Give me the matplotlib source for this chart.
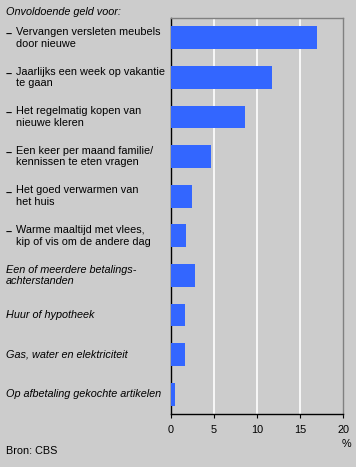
import matplotlib.pyplot as plt
import matplotlib.transforms as mtransforms

plt.rcParams['font.family'] = ['Liberation Sans', 'DejaVu Sans']

labels = [
    "Vervangen versleten meubels\ndoor nieuwe",
    "Jaarlijks een week op vakantie\nte gaan",
    "Het regelmatig kopen van\nnieuwe kleren",
    "Een keer per maand familie/\nkennissen te eten vragen",
    "Het goed verwarmen van\nhet huis",
    "Warme maaltijd met vlees,\nkip of vis om de andere dag",
    "Een of meerdere betalings-\nachterstanden",
    "Huur of hypotheek",
    "Gas, water en elektriciteit",
    "Op afbetaling gekochte artikelen",
]
dashed = [True, True, True, True, True, True, False, False, False, False]
values = [17.0, 11.8, 8.6, 4.7, 2.5, 1.8, 2.8, 1.7, 1.7, 0.5]
xticks = [0, 5, 10, 15, 20]

BG = '#cccccc'
BAR = '#3366ff'
FS = 7.8

fig = plt.figure(figsize=(3.56, 4.67), dpi=100, facecolor=BG)
ax = fig.add_axes([170.5 / 356, 1 - 414 / 467, (343 - 170.5) / 356, (414 - 18) / 467])
ax.set_facecolor(BG)

ypos = list(range(len(values)))
ax.barh(ypos, values, height=0.58, color=BAR, zorder=3)
ax.set_ylim(len(values) - 0.5, -0.5)
ax.set_xlim(0, 20)

for x in xticks[1:-1]:
    ax.axvline(x, color='white', lw=1.2, zorder=1)

ax.set_xticks(xticks)
ax.set_xticklabels([str(t) for t in xticks], fontsize=FS)
ax.tick_params(axis='x', length=3, width=0.8, pad=5, color='black')
ax.set_yticks([])

for side in ['left', 'bottom']:
    ax.spines[side].set_color('black')
    ax.spines[side].set_linewidth(1.0)
for side in ['top', 'right']:
    ax.spines[side].set_color('#808080')
    ax.spines[side].set_linewidth(1.0)

trans = mtransforms.blended_transform_factory(fig.transFigure, ax.transData)
# dash sits low, near the baseline of the first line
dash_trans = trans + mtransforms.ScaledTranslation(0, -3 / 100, fig.dpi_scale_trans)
for y, lab, d in zip(ypos, labels, dashed):
    if d:
        ax.text(6 / 356, y, "\u2013\n ", transform=dash_trans, fontsize=FS,
                ha='left', va='center', linespacing=1.2, fontweight='bold')
        ax.text(16 / 356, y, lab, transform=trans, fontsize=FS,
                ha='left', va='center', linespacing=1.2)
    else:
        ax.text(6 / 356, y, lab, transform=trans, fontsize=FS,
                ha='left', va='center', style='italic', linespacing=1.2)

fig.text(6 / 356, 1 - 12 / 467, "Onvoldoende geld voor:", fontsize=FS,
         style='italic', ha='left', va='center')
fig.text(346 / 356, 1 - 444 / 467, "%", fontsize=FS, ha='center', va='center')
fig.text(6 / 356, 1 - 451 / 467, "Bron: CBS", fontsize=FS, ha='left', va='center')

fig.savefig('out.png', dpi=100, facecolor=BG)
